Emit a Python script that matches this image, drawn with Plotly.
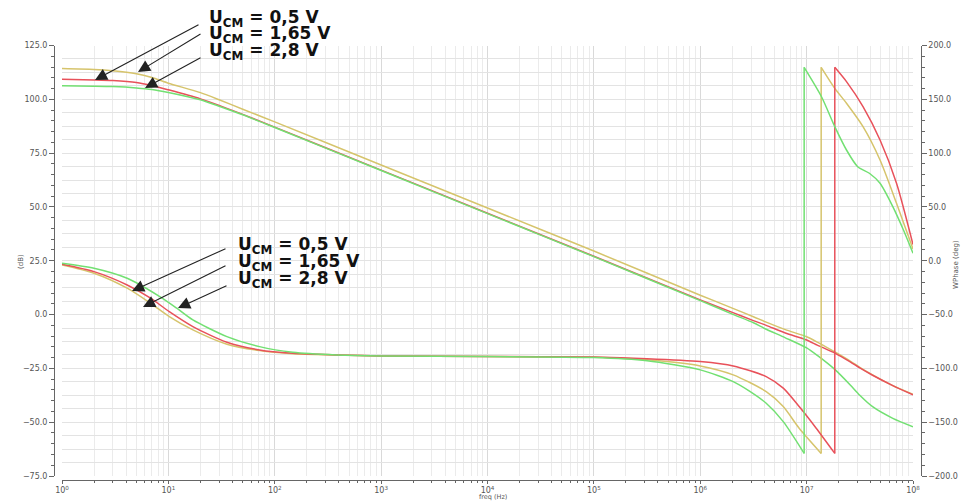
import plotly.graph_objects as go

# ---------------- data ----------------
freq_mag = [1, 2, 3, 5, 7, 10, 20, 30, 50, 100, 1e3, 1e4, 1e5, 1e6, 2e6, 3.16e6,
            4.17e6, 6.31e6, 1e7, 1.26e7, 1.86e7, 2.57e7, 3.16e7, 4.17e7, 6.46e7, 1e8]
mag_05 = [109.3, 109.0, 108.7, 107.8, 106.4, 104.4, 100.2, 97.2, 93.0, 87.1, 67.1, 47.1,
          27.1, 6.8, 1.0, -2.8, -5.0, -8.6, -11.8, -14.2, -18.0, -22.0, -24.8, -28.2, -33.0, -37.3]
mag_165 = [114.3, 113.9, 113.3, 111.9, 110.1, 107.5, 103.1, 99.8, 95.4, 89.5, 69.5, 49.5,
           29.5, 9.0, 3.0, -1.0, -3.5, -7.0, -10.3, -12.8, -17.5, -21.6, -24.5, -28.0, -33.0, -37.0]
mag_28 = [106.3, 106.1, 105.9, 105.3, 104.6, 103.2, 99.8, 96.8, 92.8, 86.9, 66.9, 46.9,
          26.9, 6.5, 0.2, -3.8, -6.8, -10.8, -15.5, -19.0, -25.7, -32.7, -37.5, -42.8, -48.2, -52.1]

# phase before the wrap (deg)
freq_ph_05 = [1, 2, 4.1, 6.8, 10.2, 17, 35.5, 72, 148, 380, 1e3, 1e4, 1e5, 3.16e5, 1e6,
              2.04e6, 4.17e6, 6.03e6, 8.51e6, 1.23e7, 1.84e7]
ph_05 = [-3.2, -10.1, -22.5, -34.8, -47.3, -61.2, -75.7, -82.9, -86.0, -87.5, -88.5, -89.0,
         -89.5, -91.0, -93.7, -97.7, -107.6, -118.4, -135.5, -155.6, -179.0]
freq_ph_165 = [1, 2, 4.1, 6.8, 10.2, 17, 35.5, 72, 148, 380, 1e3, 1e4, 1e5, 3.16e5, 1e6,
               2.04e6, 4.17e6, 6.03e6, 8.51e6, 1.37e7]
ph_165 = [-3.9, -11.6, -25.5, -39.5, -51.9, -64.3, -77.6, -83.5, -86.4, -87.5, -88.5, -89.0,
          -89.7, -92.0, -97.7, -106.0, -121.6, -135.5, -155.6, -179.0]
freq_ph_28 = [1, 2, 4.1, 8.3, 12, 17, 35.5, 72, 148, 380, 1e3, 1e4, 1e5, 3.16e5, 1e6,
              2.04e6, 2.95e6, 4.17e6, 6.03e6, 9.48e6]
ph_28 = [-2.3, -7.0, -16.3, -33.3, -44.1, -55.0, -70.5, -79.8, -85.0, -87.5, -88.5, -89.0,
         -90.0, -93.0, -101.4, -112.3, -121.6, -132.4, -149.5, -179.0]

# phase after the wrap (deg)
freq_pw_05 = [1.84e7, 2.37e7, 3.39e7, 4.9e7, 7e7, 1e8]
pw_05 = [179.7, 166.4, 143.2, 112.2, 72.0, 15.0]
freq_pw_165 = [1.37e7, 1.84e7, 2.37e7, 3.39e7, 4.9e7, 7e7, 1e8]
pw_165 = [179.7, 160.2, 146.3, 124.6, 93.6, 53.4, 11.0]
freq_pw_28 = [9.48e6, 1.38e7, 1.84e7, 2.37e7, 3.02e7, 3.89e7, 4.9e7, 6.46e7, 8.13e7, 1e8]
pw_28 = [179.7, 152.4, 124.6, 102.9, 87.4, 81.3, 72.0, 50.3, 28.6, 7.0]

decades = [1, 10, 100, 1e3, 1e4, 1e5, 1e6, 1e7, 1e8]
decade_labels = ["10<sup>%d</sup>" % i for i in range(9)]
minor_vals = [k * d for d in decades[:-1] for k in range(2, 10)]

labels = ["U<sub>CM</sub> = 0,5 V", "U<sub>CM</sub> = 1,65 V", "U<sub>CM</sub> = 2,8 V"]

RED = "#e8515a"
YEL = "#d6c46c"
GRN = "#72e072"

W, H = 969, 504
def px(x):
    return x / W
def py(y):
    return 1 - y / H

fig = go.Figure()

series = [
    (freq_mag, mag_165, freq_ph_165, ph_165, freq_pw_165, pw_165, YEL),
    (freq_mag, mag_05, freq_ph_05, ph_05, freq_pw_05, pw_05, RED),
    (freq_mag, mag_28, freq_ph_28, ph_28, freq_pw_28, pw_28, GRN),
]
for fm, m, fp, p, fw, pw, col in series:
    ln = dict(color=col, width=1.5, shape="spline", smoothing=0.7)
    fig.add_trace(go.Scatter(x=fm, y=m, mode="lines", line=ln, yaxis="y",
                             showlegend=False, hoverinfo="skip"))
    fig.add_trace(go.Scatter(x=fp, y=p, mode="lines", line=ln, yaxis="y2",
                             showlegend=False, hoverinfo="skip"))
    fig.add_trace(go.Scatter(x=[fp[-1], fw[0]], y=[p[-1], pw[0]], mode="lines",
                             line=dict(color=col, width=1.5), yaxis="y2",
                             showlegend=False, hoverinfo="skip"))
    fig.add_trace(go.Scatter(x=fw, y=pw, mode="lines", line=ln, yaxis="y2",
                             showlegend=False, hoverinfo="skip"))

# invisible trace for the horizontal grid axis
fig.add_trace(go.Scatter(x=[1, 1e8], y=[0, 0], mode="lines", yaxis="y3",
                         line=dict(width=0), opacity=0, showlegend=False, hoverinfo="skip"))

tickfont = dict(family="DejaVu Sans", size=8, color="#555")
ydom = [py(476), py(45.5)]

fig.update_layout(
    width=W, height=H,
    margin=dict(l=0, r=0, t=0, b=0, autoexpand=False),
    paper_bgcolor="white", plot_bgcolor="white",
    xaxis=dict(type="log", range=[0, 8], domain=[px(62), px(913)],
               anchor="free", position=py(479.5), automargin=False,
               showline=True, linecolor="#666", linewidth=1,
               tickmode="array", tickvals=decades, ticktext=decade_labels,
               ticks="outside", ticklen=3, tickcolor="#666", tickfont=tickfont,
               showgrid=True, gridcolor="#d9d9d9", gridwidth=1, zeroline=False,
               minor=dict(tickmode="array", tickvals=minor_vals, ticks="outside",
                          ticklen=2, tickcolor="#666", showgrid=True,
                          gridcolor="#ebebeb", gridwidth=1)),
    yaxis=dict(range=[-75, 125], domain=ydom, anchor="free", position=px(54),
               side="left", showline=True, linecolor="#666", linewidth=1, automargin=False,
               tickmode="linear", tick0=-75, dtick=25, tickformat=".1f",
               ticks="outside", ticklen=5, tickcolor="#666", tickfont=tickfont,
               showgrid=False, zeroline=False,
               minor=dict(dtick=5, ticks="outside", ticklen=3, tickcolor="#666",
                          showgrid=False)),
    yaxis2=dict(range=[-200, 200], overlaying="y", anchor="free", position=px(920.7),
                side="right", showline=True, linecolor="#666", linewidth=1, automargin=False,
                tickmode="linear", tick0=-200, dtick=50, tickformat=".1f",
                ticks="outside", ticklen=5, tickcolor="#666", tickfont=tickfont,
                showgrid=False, zeroline=False,
                minor=dict(dtick=10, ticks="outside", ticklen=3, tickcolor="#666",
                           showgrid=False)),
    yaxis3=dict(range=[-200, 200], overlaying="y", anchor="x", side="left",
                tickmode="linear", tick0=-200, dtick=12.5, showticklabels=False,
                ticks="", showline=False, zeroline=False, automargin=False,
                showgrid=True, gridcolor="#e3e3e3", gridwidth=1),
)

ann = []
small = dict(family="DejaVu Sans", size=7, color="#555")
ann.append(dict(x=px(15), y=py(262), xref="paper", yref="paper", text="(dB)",
                textangle=-90, showarrow=False, font=small))
ann.append(dict(x=px(962), y=py(265), xref="paper", yref="paper", text="WPhase (deg)",
                textangle=-90, showarrow=False, font=small))
ann.append(dict(x=px(493), y=py(503), xref="paper", yref="paper", text="freq (Hz)",
                yanchor="bottom", showarrow=False,
                font=dict(family="DejaVu Sans", size=6.5, color="#555")))

lblfont = dict(family="DejaVu Sans", size=17, color="#111")
top_y = [19, 35, 52]
bot_y = [245, 262, 279]
for i, t in enumerate(labels):
    ann.append(dict(x=px(207), y=py(top_y[i]), xref="paper", yref="paper",
                    text="<b>%s</b>" % t, showarrow=False, xanchor="left",
                    yanchor="middle", font=lblfont))
    ann.append(dict(x=px(236), y=py(bot_y[i]), xref="paper", yref="paper",
                    text="<b>%s</b>" % t, showarrow=False, xanchor="left",
                    yanchor="middle", font=lblfont))

arrows = [((95, 80), (200, 24)), ((138, 72), (202, 33)), ((145, 88), (202, 57)),
          ((132, 291), (227, 248)), ((143, 307), (227, 265)), ((178, 308), (228, 285))]
for (tx, ty), (sx, sy) in arrows:
    ann.append(dict(x=px(tx), y=py(ty), xref="paper", yref="paper", text="",
                    showarrow=True, ax=sx - tx, ay=sy - ty, arrowhead=2,
                    arrowsize=2.2, arrowwidth=1.1, arrowcolor="#222", standoff=0))

fig.update_layout(annotations=ann)
fig.write_html("out.html", config={"displayModeBar": False},
               post_script="document.body.style.margin='0';document.body.style.overflow='hidden';")
